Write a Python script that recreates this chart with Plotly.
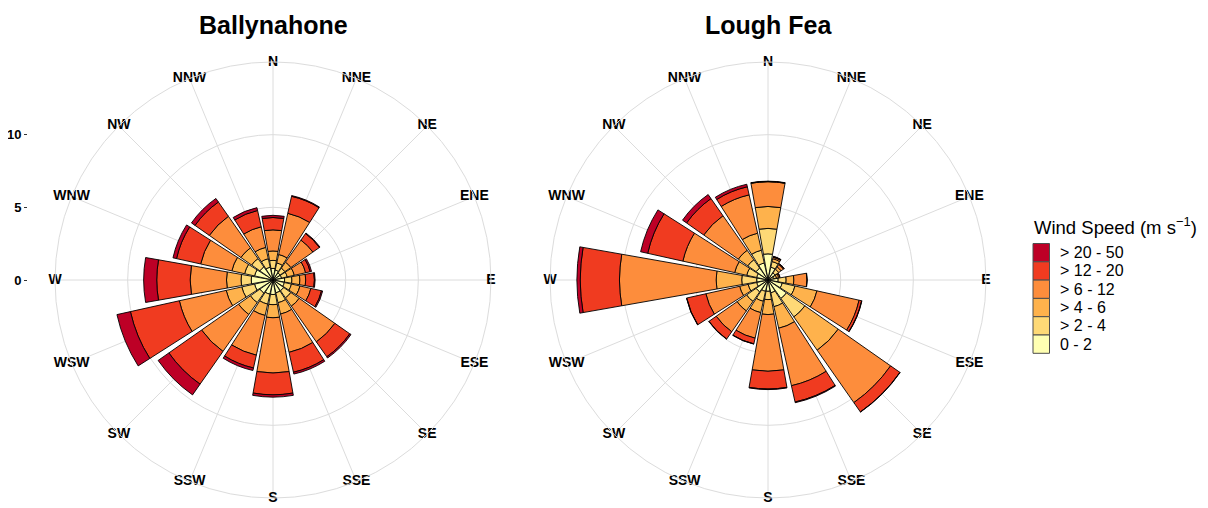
import plotly.graph_objects as go

directions = ["N", "NNE", "NE", "ENE", "E", "ESE", "SE", "SSE",
              "S", "SSW", "SW", "WSW", "W", "WNW", "NW", "NNW"]
speed_bins = ["0 - 2", "> 2 - 4", "> 4 - 6", "> 6 - 12", "> 12 - 20", "> 20 - 50"]
bin_colors = ["#FFFFB2", "#FED976", "#FEB24C", "#FD8D3C", "#F03B20", "#BD0026"]
sites = ["Ballynahone", "Lough Fea"]

# frequency (%) per direction, one list per speed bin
bally_0_2 = [0.8, 0.7, 0.6, 0.6, 0.8, 0.8, 0.9, 0.9, 1.0, 1.0, 1.1, 1.3, 1.5, 1.3, 1.1, 0.9]
bally_2_4 = [0.55, 0.5, 0.4, 0.4, 0.5, 0.5, 0.6, 0.7, 0.7, 0.7, 0.8, 0.9, 0.7, 0.7, 0.7, 0.6]
bally_4_6 = [0.65, 0.6, 0.5, 0.5, 0.55, 0.6, 0.7, 0.8, 0.9, 0.8, 1.0, 1.1, 1.0, 0.9, 0.9, 0.8]
bally_6_12 = [1.45, 2.9, 1.85, 0.8, 0.4, 0.77, 3.0, 2.7, 3.8, 2.8, 3.1, 3.3, 2.5, 2.2, 2.65, 1.45]
bally_12_20 = [0.85, 1.2, 0.55, 0.32, 0.6, 0.75, 1.25, 1.4, 1.5, 0.9, 2.75, 3.45, 2.3, 1.7, 1.2, 1.15]
bally_20_50 = [0.15, 0.05, 0.05, 0.1, 0.05, 0.08, 0.1, 0.13, 0.16, 0.18, 0.9, 0.95, 0.9, 0.25, 0.3, 0.2]

lough_0_2 = [1.8, 0.9, 0.6, 0.4, 0.7, 1.0, 1.55, 0.9, 0.78, 0.8, 1.0, 0.8, 0.78, 0.8, 1.0, 1.2]
lough_2_4 = [1.75, 0.4, 0.3, 0.2, 0.55, 0.9, 1.55, 0.98, 0.57, 0.7, 0.8, 0.6, 1.03, 0.7, 0.7, 0.9]
lough_4_6 = [1.51, 0.2, 0.2, 0.15, 0.53, 1.55, 2.8, 1.52, 1.03, 0.8, 0.8, 0.6, 1.76, 0.85, 0.8, 1.2]
lough_6_12 = [1.7, 0.1, 0.2, 0.08, 0.9, 2.97, 4.4, 4.05, 3.9, 1.8, 1.75, 2.38, 6.65, 3.65, 2.9, 2.7]
lough_12_20 = [0.02, 0.05, 0.05, 0.02, 0.02, 0.18, 0.78, 1.15, 1.22, 0.4, 0.61, 1.35, 2.7, 2.48, 1.44, 0.57]
lough_20_50 = [0.02, 0.02, 0.01, 0.0, 0.0, 0.02, 0.02, 0.05, 0.04, 0.02, 0.01, 0.02, 0.23, 0.5, 0.34, 0.18]

radial_ticks = [0, 5, 10]

site_data = [
    [bally_0_2, bally_2_4, bally_4_6, bally_6_12, bally_12_20, bally_20_50],
    [lough_0_2, lough_2_4, lough_4_6, lough_6_12, lough_12_20, lough_20_50],
]

FONT = "Liberation Sans, Arial, sans-serif"
W, H = 1208, 508
OFF = 8          # page body margin of the html page
R_MAX = 15
angles = [i * 360 / len(directions) for i in range(len(directions))]


def px(x):
    return (x - OFF) / W


def py(y):
    return 1 - (y - OFF) / H


fig = go.Figure()
polar_names = ["polar", "polar2"]
for s, series in enumerate(site_data):
    for b, vals in enumerate(series):
        fig.add_trace(go.Barpolar(
            r=vals, theta=angles, width=20, thetaunit="degrees",
            name=speed_bins[b], showlegend=False,
            marker=dict(color=bin_colors[b], line=dict(color="black", width=0.9)),
            subplot=polar_names[s], hoverinfo="skip",
        ))
    fig.add_trace(go.Scatterpolar(
        r=[R_MAX] * len(directions), theta=angles, mode="text", text=directions,
        textfont=dict(family=FONT, size=14, color="black", weight="bold"),
        cliponaxis=False, showlegend=False, subplot=polar_names[s], hoverinfo="skip",
    ))

# invisible trace carrying the left-hand radial scale
fig.add_trace(go.Scatter(x=[0, 0], y=[0, 10], mode="markers",
                         marker=dict(opacity=0, size=1),
                         showlegend=False, hoverinfo="skip", xaxis="x", yaxis="y"))

centers_x = [273, 768]
cy = 280
rad_px = 218
grid_col = "#DCDCDC"


def polar_layout(cx):
    return dict(
        domain=dict(x=[px(cx - rad_px), px(cx + rad_px)],
                    y=[py(cy + rad_px), py(cy - rad_px)]),
        bgcolor="white",
        barmode="stack",
        radialaxis=dict(range=[0, R_MAX], tickvals=[5, 10], showticklabels=False,
                        ticks="", showline=False, gridcolor=grid_col, gridwidth=1),
        angularaxis=dict(rotation=90, direction="clockwise", thetaunit="degrees",
                         tickmode="array", tickvals=angles, showticklabels=False,
                         ticks="", showline=True, linecolor=grid_col, linewidth=1,
                         gridcolor=grid_col, gridwidth=1),
    )


annotations = []
for s, cx in enumerate(centers_x):
    annotations.append(dict(text=f"<b>{sites[s]}</b>", x=px(cx), y=py(8.5),
                            xref="paper", yref="paper", showarrow=False,
                            font=dict(family=FONT, size=25, color="black"),
                            xanchor="center", yanchor="top"))

# legend (drawn to match the reference's compact key)
shapes = []
annotations.append(dict(text="Wind Speed (m s<sup>−1</sup>)", x=px(1032), y=py(226),
                        xref="paper", yref="paper", showarrow=False,
                        font=dict(family=FONT, size=18.5, color="black"),
                        xanchor="left", yanchor="middle"))
key_top = 243.5
key_h = 18.3
for k, b in enumerate(reversed(range(len(speed_bins)))):
    y0 = key_top + k * key_h
    shapes.append(dict(type="rect", xref="paper", yref="paper",
                       x0=px(1033), x1=px(1049.5), y0=py(y0 + key_h), y1=py(y0),
                       fillcolor=bin_colors[b], line=dict(color="#4d4d4d", width=1)))
    annotations.append(dict(text=speed_bins[b], x=px(1058), y=py(y0 + key_h / 2),
                            xref="paper", yref="paper", showarrow=False,
                            font=dict(family=FONT, size=16, color="black"),
                            xanchor="left", yanchor="middle"))

fig.update_layout(
    width=W, height=H,
    margin=dict(l=0, r=0, t=0, b=0),
    paper_bgcolor="white", plot_bgcolor="white",
    font=dict(family=FONT, color="black"),
    polar=polar_layout(centers_x[0]),
    polar2=polar_layout(centers_x[1]),
    xaxis=dict(domain=[px(28), px(40)], visible=False, range=[-1, 1], fixedrange=True),
    yaxis=dict(domain=[py(cy + rad_px), py(cy - rad_px)],
               range=[-R_MAX, R_MAX], tickvals=radial_ticks, ticks="outside", ticklen=3,
               tickcolor="#333333", showgrid=False, zeroline=False, showline=False,
               tickfont=dict(family=FONT, size=13, color="black", weight="bold"),
               anchor="x", fixedrange=True),
    annotations=annotations,
    shapes=shapes,
    showlegend=False,
)

fig.write_html("out.html")
